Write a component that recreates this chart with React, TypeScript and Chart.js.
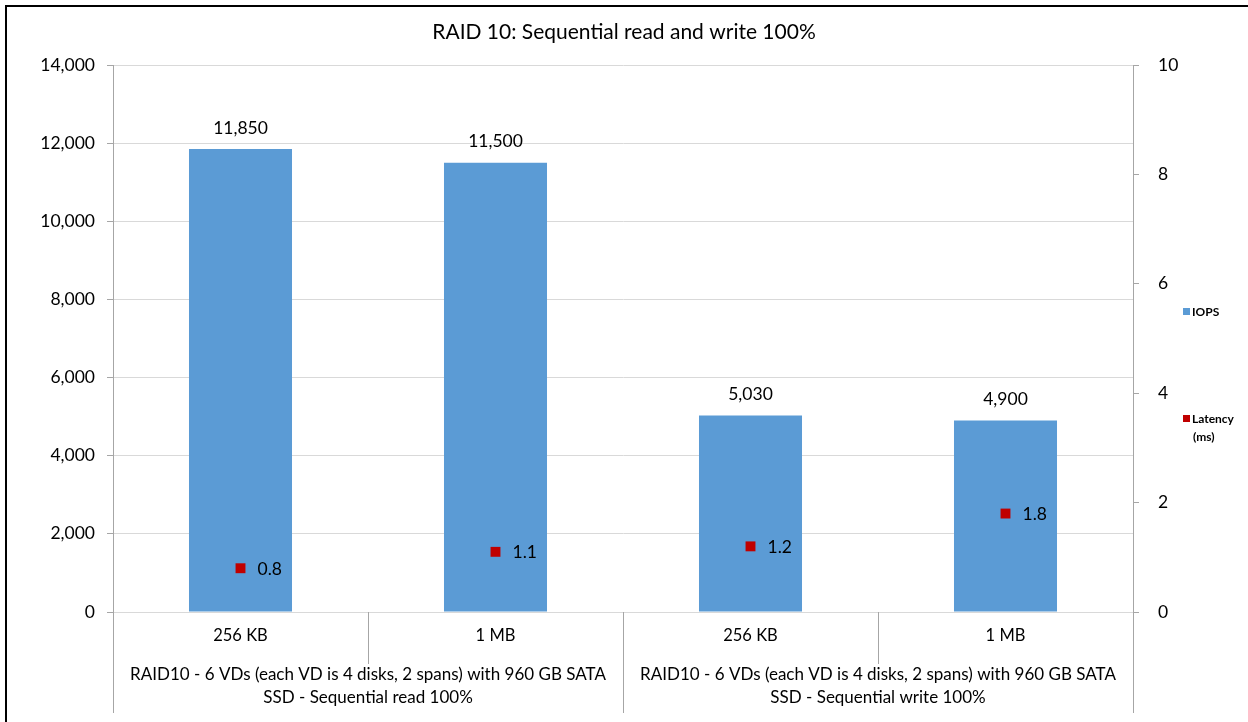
import React, { useEffect, useRef } from "react";
import { Chart, registerables } from "chart.js";

Chart.register(...registerables);

const titleText = "RAID 10: Sequential read and write 100%";
const categories = ["256 KB", "1 MB", "256 KB", "1 MB"];
const groupLines = [
  ["RAID10 - 6 VDs (each VD is 4 disks, 2 spans) with 960 GB SATA", "SSD - Sequential read 100%"],
  ["RAID10 - 6 VDs (each VD is 4 disks, 2 spans) with 960 GB SATA", "SSD - Sequential write 100%"],
];
const iops = [11850, 11500, 5030, 4900];
const latency = [0.8, 1.1, 1.2, 1.8];
const seriesNames = ["IOPS", "Latency", "(ms)"];
const leftMax = 14000;
const leftStep = 2000;
const rightMax = 10;
const rightStep = 2;

const FONT = "Lato";
const BAR_COLOR = "#5b9bd5";
const PT_COLOR = "#c00000";
const AXIS_COLOR = "#a6a6a6";
const GRID_COLOR = "#d9d9d9";

const fmt = (v: number) => v.toLocaleString("en-US");

const overlay = {
  id: "overlay",
  afterDraw(chart: any) {
    const ctx = chart.ctx;
    const xs = chart.scales.x;
    const area = chart.chartArea;
    ctx.save();
    // border
    ctx.strokeStyle = "#000";
    ctx.lineWidth = 2;
    ctx.strokeRect(6, 6, 1300, 800);
    // title
    ctx.fillStyle = "#000";
    ctx.textAlign = "center";
    ctx.textBaseline = "middle";
    ctx.font = `21px ${FONT}`;
    ctx.fillText(titleText, 624, 32);
    // bar labels
    ctx.font = `17.5px ${FONT}`;
    chart.getDatasetMeta(0).data.forEach((el: any, i: number) => {
      ctx.fillText(fmt(iops[i]), el.x, el.y - 21);
    });
    // latency labels
    ctx.textAlign = "left";
    chart.getDatasetMeta(1).data.forEach((el: any, i: number) => {
      ctx.fillText(latency[i].toFixed(1), el.x + 17, el.y + 1);
    });
    // x category labels
    ctx.textAlign = "center";
    ctx.font = `16.5px ${FONT}`;
    const px = categories.map((_, i) => xs.getPixelForValue(i));
    categories.forEach((c, i) => ctx.fillText(c, px[i], 636));
    ctx.font = `17px ${FONT}`;
    groupLines.forEach((lines, g) => {
      const cx = (px[g * 2] + px[g * 2 + 1]) / 2;
      lines.forEach((l, k) => ctx.fillText(l, cx, 675 + k * 23));
    });
    // separators
    ctx.strokeStyle = AXIS_COLOR;
    ctx.lineWidth = 1;
    const shortX = [(px[0] + px[1]) / 2, (px[2] + px[3]) / 2];
    const longX = [area.left, (px[1] + px[2]) / 2, area.right];
    ctx.beginPath();
    shortX.forEach((x) => {
      const xx = Math.round(x) + 0.5;
      ctx.moveTo(xx, area.bottom);
      ctx.lineTo(xx, 664);
    });
    longX.forEach((x) => {
      const xx = Math.round(x) + 0.5;
      ctx.moveTo(xx, area.bottom);
      ctx.lineTo(xx, 713);
    });
    ctx.stroke();
    // legend
    ctx.font = `bold 12px ${FONT}`;
    ctx.textAlign = "left";
    ctx.fillStyle = BAR_COLOR;
    ctx.fillRect(1183, 308, 7, 7);
    ctx.fillStyle = "#000";
    ctx.fillText(seriesNames[0], 1192, 312);
    ctx.fillStyle = PT_COLOR;
    ctx.fillRect(1183, 415, 7, 7);
    ctx.fillStyle = "#000";
    ctx.fillText(seriesNames[1], 1192, 419);
    ctx.fillText(seriesNames[2], 1193, 437);
    ctx.restore();
  },
};

export default function App() {
  const ref = useRef<HTMLCanvasElement>(null);
  useEffect(() => {
    if (!ref.current) return;
    const chart = new Chart(ref.current, {
      type: "bar",
      data: {
        labels: categories,
        datasets: [
          {
            type: "bar",
            label: seriesNames[0],
            data: iops,
            backgroundColor: BAR_COLOR,
            yAxisID: "y",
            categoryPercentage: 1,
            barPercentage: 0.404,
            order: 2,
          },
          {
            type: "line",
            label: "Latency (ms)",
            data: latency,
            yAxisID: "y1",
            showLine: false,
            pointStyle: "rect",
            pointRadius: 7,
            pointBackgroundColor: PT_COLOR,
            pointBorderWidth: 0,
            borderColor: PT_COLOR,
            order: 1,
          } as any,
        ],
      },
      options: {
        animation: false,
        responsive: false,
        layout: { padding: { top: 65, left: 0, right: 0, bottom: 0 } },
        plugins: { legend: { display: false }, tooltip: { enabled: false }, title: { display: false } },
        scales: {
          x: {
            ticks: { display: false },
            grid: { display: false },
            border: { display: false },
            afterFit: (s: any) => {
              s.height = 110;
            },
          },
          y: {
            position: "left",
            min: 0,
            max: leftMax,
            ticks: {
              stepSize: leftStep,
              color: "#000",
              font: { family: FONT, size: 17.5 },
              padding: 12,
              callback: (v: any) => fmt(Number(v)),
            },
            grid: { color: GRID_COLOR, tickLength: 6, tickColor: AXIS_COLOR },
            border: { color: AXIS_COLOR },
            afterFit: (s: any) => {
              s.width = 113;
            },
          },
          y1: {
            position: "right",
            min: 0,
            max: rightMax,
            ticks: {
              stepSize: rightStep,
              color: "#000",
              font: { family: FONT, size: 17.5 },
              padding: 19,
            },
            grid: { drawOnChartArea: false, tickLength: 6, color: AXIS_COLOR },
            border: { color: AXIS_COLOR },
            afterFit: (s: any) => {
              s.width = 115;
            },
          },
        },
      } as any,
      plugins: [overlay],
    });
    return () => chart.destroy();
  }, []);
  return (
    <div style={{ position: "fixed", left: 0, top: 0, width: 1248, height: 722, background: "#fff" }}>
      <canvas ref={ref} width={1248} height={722} style={{ width: 1248, height: 722, display: "block" }} />
    </div>
  );
}
